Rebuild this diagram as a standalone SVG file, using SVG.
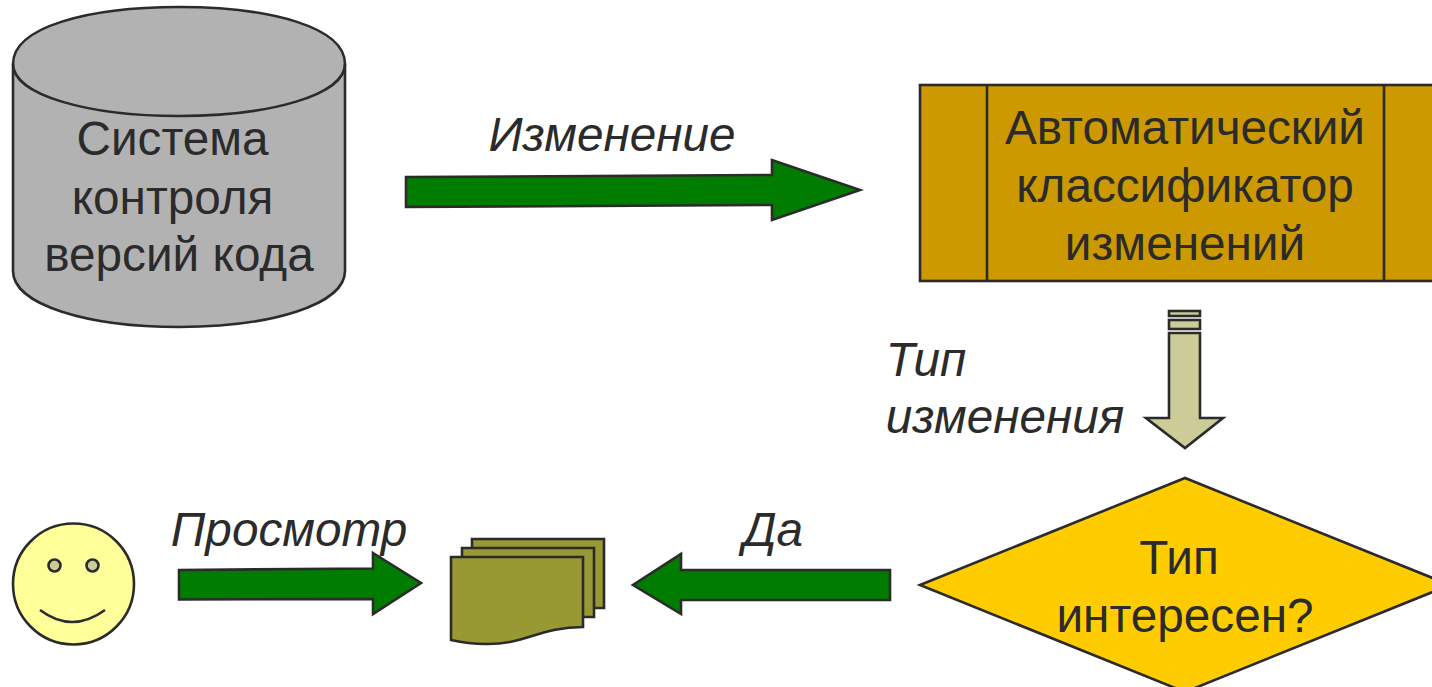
<svg xmlns="http://www.w3.org/2000/svg" width="1432" height="687" viewBox="0 0 1432 687">
<style>
text{font-family:"Liberation Sans",Arial,sans-serif;font-size:47.700px;fill:#2b2b2b;text-anchor:middle}
.i{font-style:italic}
.s{stroke:#2b2b2b;stroke-width:2.6;stroke-linejoin:miter}
.g{fill:#007c00}
.d{fill:#999933}
.k{fill:#cccc99}
</style>
<rect width="1432" height="687" fill="#fff"/>
<g id="connectors">
<path class="s g" d="M406 177 L772 175 V160 L860 190 L772 220 V205 L406 207Z"/>
<path class="s g" d="M179 570 L373 568.500 V553 L421 583 L373 614 V599 L179 599.500Z"/>
<path class="s g" d="M890 570 L681 570 V554 L633 585 L681 614 V600 L890 600Z"/>
<g id="down-arrow">
<rect class="s k" x="1169" y="311" width="31" height="5"/>
<rect class="s k" x="1169" y="320" width="31" height="9"/>
<path class="s k" d="M1169 333 H1200 V418 H1223 L1185 448 L1146 418 H1169Z"/>
</g>
</g>
<g id="vcs">
<path class="s" fill="#b2b2b2" d="M13 64 C13 27 88 7 179 7 C270 7 345 27 345 64 V271 C345 305 270 327 179 327 C88 327 13 305 13 271Z"/>
<path class="s" fill="none" d="M13 64 C13 95 88 116 179 116 C270 116 345 95 345 64"/>
<text x="172.500" y="155">Система</text>
<text x="172.500" y="214">контроля</text>
<text x="179" y="271">версий кода</text>
</g>
<g id="classifier">
<rect class="s" fill="#cc9900" x="920" y="85" width="530" height="196"/>
<path class="s" fill="none" d="M987 85 V281 M1384 85 V281"/>
<text x="1185" y="144">Автоматический</text>
<text x="1185" y="202">классификатор</text>
<text x="1185" y="260">изменений</text>
</g>
<g id="decision">
<path class="s" fill="#ffcc00" d="M920 585 L1185 478 L1450 585 L1185 692Z"/>
<text x="1179" y="574">Тип</text>
<text x="1185" y="632">интересен?</text>
</g>
<g id="user">
<ellipse class="s" fill="#ffff99" cx="73.500" cy="584" rx="60.500" ry="60.500"/>
<ellipse class="s k" cx="54.500" cy="565.500" rx="6" ry="6"/>
<ellipse class="s k" cx="92.500" cy="565.500" rx="6" ry="6"/>
<path class="s" fill="none" d="M40 610 Q72 634 105 610"/>
</g>
<g id="documents">
<path class="s d" d="M472 539 H604 V608 H472Z"/>
<path class="s d" d="M462 548 H594 V617 H462Z"/>
<path class="s d" d="M451 557 H583 V627 C540 627 525 645 485 644 C470 644 460 642 451 640Z"/>
</g>
<g id="labels">
<text class="i" x="612" y="151">Изменение</text>
<text class="i" x="926" y="376">Тип</text>
<text class="i" x="1005" y="433">изменения</text>
<text class="i" x="289" y="546">Просмотр</text>
<text class="i" x="773" y="546">Да</text>
</g>
</svg>
